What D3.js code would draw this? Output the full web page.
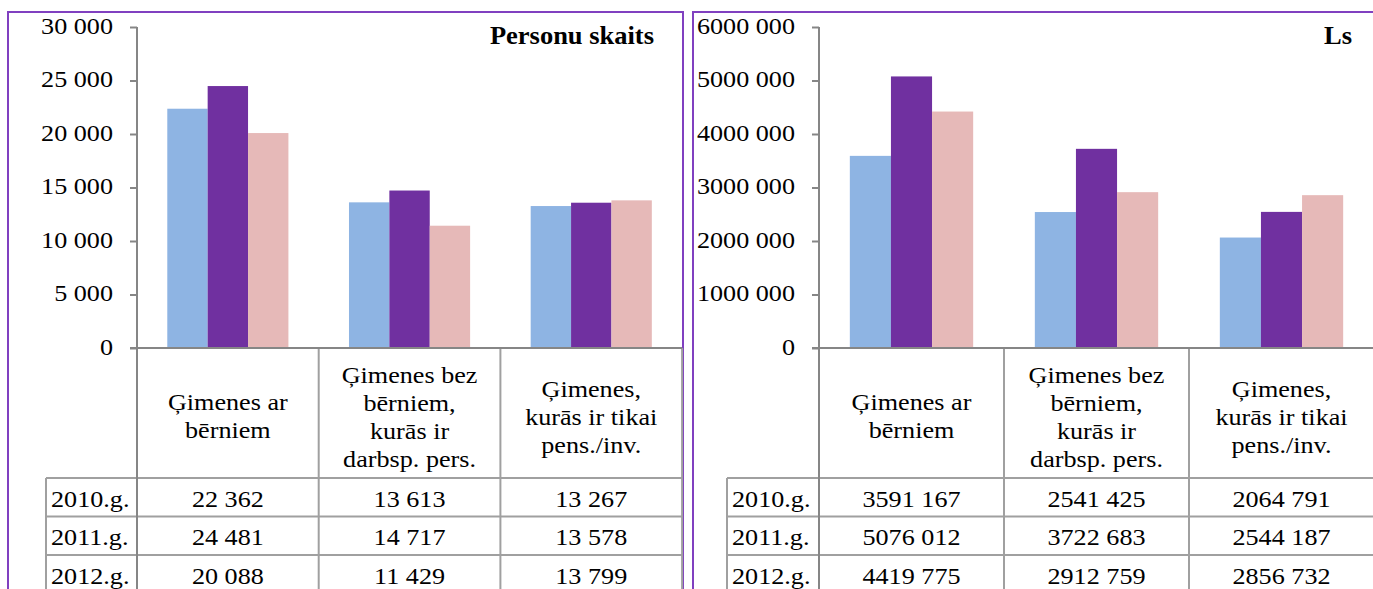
<!DOCTYPE html>
<html>
<head>
<meta charset="utf-8">
<script src="https://cdn.jsdelivr.net/npm/d3@7"></script>
<style>
body{margin:0;background:#fff;}
svg{display:block;}
</style>
</head>
<body>
<svg width="1373" height="589"></svg>
<script>
// dati
var gadi = ["2010.g.", "2011.g.", "2012.g."];
var kategorijas = [
	["Ģimenes ar", "bērniem"],
	["Ģimenes bez", "bērniem,", "kurās ir", "darbsp. pers."],
	["Ģimenes,", "kurās ir tikai", "pens./inv."]
];
var personas2010 = [22362, 13613, 13267];
var personas2011 = [24481, 14717, 13578];
var personas2012 = [20088, 11429, 13799];
var ls2010 = [3591167, 2541425, 2064791];
var ls2011 = [5076012, 3722683, 2544187];
var ls2012 = [4419775, 2912759, 2856732];
var ticksPersonas = [0, 5000, 10000, 15000, 20000, 25000, 30000];
var ticksLs = [0, 1000000, 2000000, 3000000, 4000000, 5000000, 6000000];
var krasas = ["#8eb4e3", "#7030a0", "#e6b9b8"];

var fonts = "'Liberation Serif', 'Times New Roman', Tinos, 'DejaVu Serif', serif";
var stiept = 1.09; // teksts attēlā ir nedaudz izstiepts platumā
var svg = d3.select("svg");
var yTop = 27, yNull = 348;
var rinda = 38.5, galva = 130;

function atstarpe(v){ // 30000 -> "30 000"
	return d3.format(",")(v).replace(/,/g, " ");
}
function lsFormat(v){ // 3591167 -> "3591 167"
	var s = String(v);
	if(s.length <= 3) return s;
	return s.slice(0, s.length-3) + " " + s.slice(s.length-3);
}

function panelis(o){
	var g = svg.append("g");
	var catW = o.catW;
	var x = d3.scaleBand().domain(d3.range(3)).range([o.ax, o.ax + 3*catW]);
	var xs = d3.scaleBand().domain(d3.range(3)).range([catW/6, catW*5/6]);
	var y = d3.scaleLinear().domain([0, o.max]).range([yNull, yTop]);
	var serijas = [o.s1, o.s2, o.s3];

	// ramis
	g.append("rect")
		.attr("x", o.bx).attr("y", 12)
		.attr("width", o.bw).attr("height", 620)
		.style("fill", "none")
		.style("stroke", "#8040c0")
		.style("stroke-width", 2);

	// stabini
	for(let s=0; s<3; s++){
		g.selectAll(".s"+s)
			.data(serijas[s])
			.enter().append("rect")
			.attr("x", function(d,i){ return x(i) + xs(s); })
			.attr("y", function(d){ return y(d); })
			.attr("width", xs.bandwidth())
			.attr("height", function(d){ return yNull - y(d); })
			.style("fill", krasas[s]);
	}

	// y ass
	var ass = g.append("g")
		.attr("transform", "translate(" + o.ax + ",0)")
		.call(d3.axisLeft(y).tickValues(o.ticks).tickSize(7).tickPadding(17).tickFormat(o.fmt));
	ass.select(".domain").remove();
	ass.attr("font-family", null);
	ass.selectAll("line").style("stroke", "#868686").style("stroke-width", 2);
	ass.selectAll("text")
		.style("font-family", fonts)
		.style("font-size", "24px")
		.style("fill", "#000")
		.attr("dy", "0.27em")
		.attr("transform", function(){ return "translate(" + this.getAttribute("x") + ",0) scale(" + stiept + ",1)"; })
		.attr("x", 0);

	var pel = "#a0a0a0";
	function linija(x1,y1,x2,y2,c){
		g.append("line")
			.attr("x1", x1).attr("y1", y1)
			.attr("x2", x2).attr("y2", y2)
			.style("stroke", c)
			.style("stroke-width", 2);
	}
	function teksts(xx, yy, t, anc, sx){
		return g.append("text")
			.attr("transform", "translate(" + xx + "," + yy + ") scale(" + (sx || stiept) + ",1)")
			.attr("text-anchor", anc)
			.style("font-family", fonts)
			.style("font-size", "24px")
			.style("fill", "#000")
			.text(t);
	}
	var beigas = o.ax + 3*catW;
	// tabula
	for(let r=0; r<4; r++)
		linija(o.tx, yNull + galva + r*rinda, beigas, yNull + galva + r*rinda, pel);
	linija(o.tx, yNull + galva, o.tx, 600, pel);
	for(let i=1; i<=3; i++)
		linija(o.ax + i*catW, yNull, o.ax + i*catW, 600, pel);
	linija(o.ax, yTop, o.ax, 600, "#868686");
	linija(o.ax - 7, yNull, beigas, yNull, "#868686");

	// kategoriju nosaukumi
	for(let i=0; i<3; i++){
		var rindas = kategorijas[i];
		var sakums = yNull + galva/2 - (rindas.length-1)*28/2 + 10 + rindas.length/2;
		for(let k=0; k<rindas.length; k++)
			teksts(x(i) + catW/2, sakums + k*28, rindas[k], "middle");
	}
	// gadi un vertibas
	for(let r=0; r<3; r++){
		var yy = yNull + galva + r*rinda + rinda/2 + 9.5;
		teksts(o.tx + 5, yy, gadi[r], "start");
		for(let i=0; i<3; i++)
			teksts(x(i) + catW/2, yy, o.fmt(serijas[r][i]), "middle");
	}
	// virsraksts
	teksts(o.titX, 43.5, o.tit, "end", 1.06)
		.style("font-size", "25px")
		.style("font-weight", "bold");
}

panelis({bx: 8, bw: 675, ax: 137, catW: 181.7, tx: 46, max: 30000, ticks: ticksPersonas,
	fmt: atstarpe, s1: personas2010, s2: personas2011, s3: personas2012, tit: "Personu skaits", titX: 654});
panelis({bx: 693, bw: 700, ax: 819, catW: 185, tx: 727, max: 6000000, ticks: ticksLs,
	fmt: lsFormat, s1: ls2010, s2: ls2011, s3: ls2012, tit: "Ls", titX: 1352});
</script>
</body>
</html>
